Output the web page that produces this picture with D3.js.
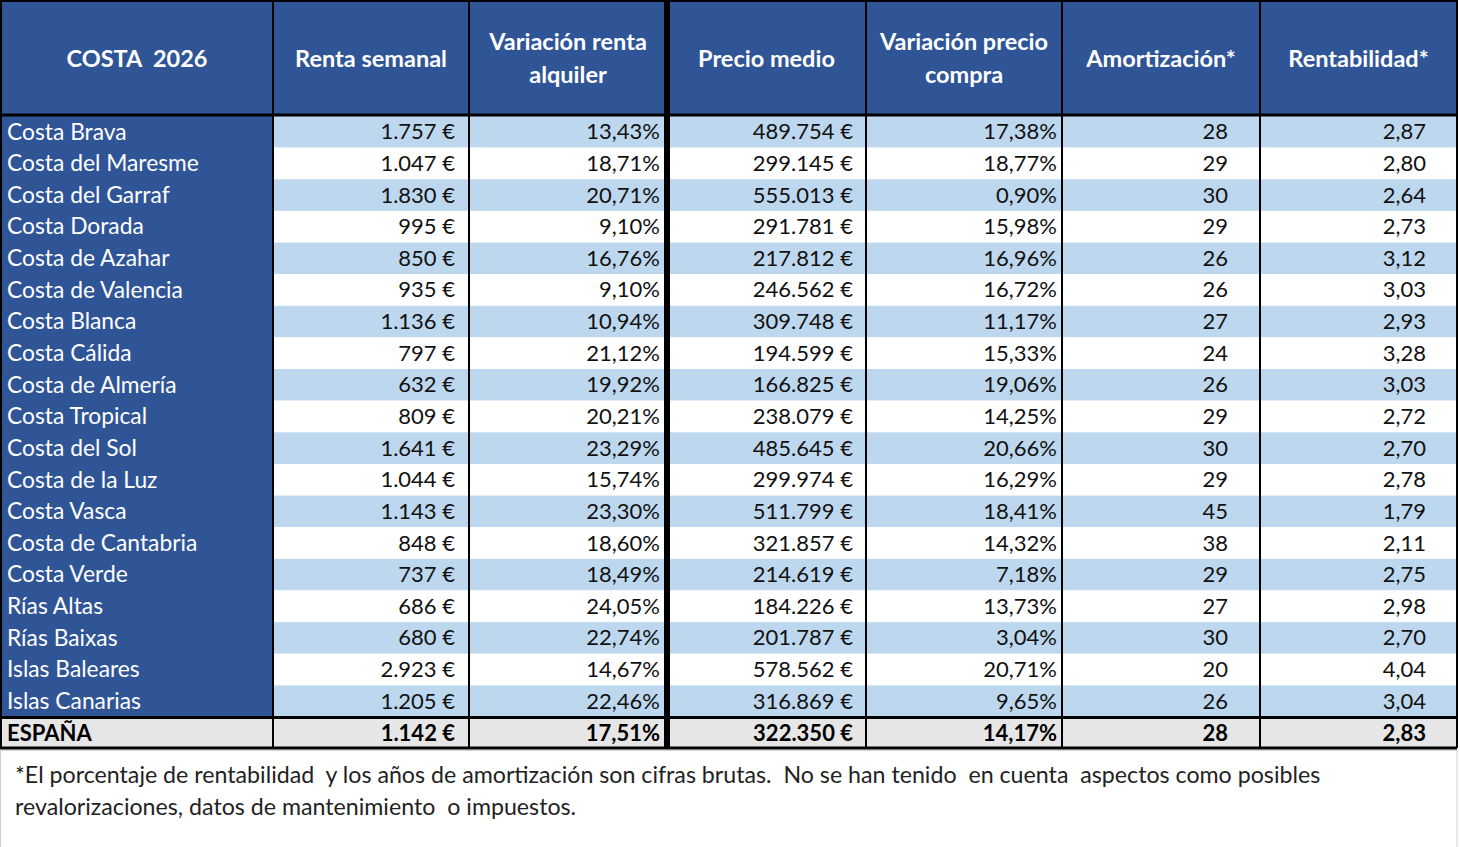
<!DOCTYPE html>
<html>
<head>
<meta charset="utf-8">
<script src="https://cdn.jsdelivr.net/npm/d3@7"></script>
<style>
  body { margin: 0; background: #fff; }
  svg { display: block; font-family: Lato, "Noto Sans", sans-serif; }
</style>
</head>
<body>
<script>
const [width, height] = [1460, 847];

// data
const headers = [
  ["COSTA  2026"],
  ["Renta semanal"],
  ["Variación renta", "alquiler"],
  ["Precio medio"],
  ["Variación precio", "compra"],
  ["Amortización*"],
  ["Rentabilidad*"]
];
const regions = [
  "Costa Brava", "Costa del Maresme", "Costa del Garraf", "Costa Dorada",
  "Costa de Azahar", "Costa de Valencia", "Costa Blanca", "Costa Cálida",
  "Costa de Almería", "Costa Tropical", "Costa del Sol", "Costa de la Luz",
  "Costa Vasca", "Costa de Cantabria", "Costa Verde", "Rías Altas",
  "Rías Baixas", "Islas Baleares", "Islas Canarias"
];
const renta = [1757, 1047, 1830, 995, 850, 935, 1136, 797, 632, 809, 1641, 1044, 1143, 848, 737, 686, 680, 2923, 1205];
const varRenta = [13.43, 18.71, 20.71, 9.10, 16.76, 9.10, 10.94, 21.12, 19.92, 20.21, 23.29, 15.74, 23.30, 18.60, 18.49, 24.05, 22.74, 14.67, 22.46];
const precio = [489754, 299145, 555013, 291781, 217812, 246562, 309748, 194599, 166825, 238079, 485645, 299974, 511799, 321857, 214619, 184226, 201787, 578562, 316869];
const varPrecio = [17.38, 18.77, 0.90, 15.98, 16.96, 16.72, 11.17, 15.33, 19.06, 14.25, 20.66, 16.29, 18.41, 14.32, 7.18, 13.73, 3.04, 20.71, 9.65];
const amort = [28, 29, 30, 29, 26, 26, 27, 24, 26, 29, 30, 29, 45, 38, 29, 27, 30, 20, 26];
const rentab = [2.87, 2.80, 2.64, 2.73, 3.12, 3.03, 2.93, 3.28, 3.03, 2.72, 2.70, 2.78, 1.79, 2.11, 2.75, 2.98, 2.70, 4.04, 3.04];
const total = { name: "ESPAÑA", renta: 1142, varRenta: 17.51, precio: 322350, varPrecio: 14.17, amort: 28, rentab: 2.83 };
const footnote = [
  "*El porcentaje de rentabilidad  y los años de amortización son cifras brutas.  No se han tenido  en cuenta  aspectos como posibles",
  "revalorizaciones, datos de mantenimiento  o impuestos."
];

// spanish number formatting
const es = d3.formatLocale({ decimal: ",", thousands: ".", grouping: [3], currency: ["", " €"] });
const fmtEuro = v => es.format(",.0f")(v) + " €";
const fmtPct = v => es.format(".2f")(v) + "%";
const fmtInt = v => es.format("d")(v);
const fmtDec = v => es.format(".2f")(v);

const rows = regions.map((name, i) => ({
  name, renta: renta[i], varRenta: varRenta[i], precio: precio[i],
  varPrecio: varPrecio[i], amort: amort[i], rentab: rentab[i]
}));

// columns: key, formatter, right padding
const cols = [
  { key: "name", fmt: d => d, pad: 6 },
  { key: "renta", fmt: fmtEuro, pad: 14 },
  { key: "varRenta", fmt: fmtPct, pad: 7 },
  { key: "precio", fmt: fmtEuro, pad: 13 },
  { key: "varPrecio", fmt: fmtPct, pad: 5 },
  { key: "amort", fmt: fmtInt, pad: 32 },
  { key: "rentab", fmt: fmtDec, pad: 31 }
];
const edges = [1, 273, 469, 667, 866, 1062, 1260, 1457];

const colors = {
  header: "#2F5597",
  stripe: "#BDD7EE",
  total: "#E7E6E6"
};

const headerH = 115;
const bodyTop = 116, bodyBottom = 717;
const totalTop = 718, totalBottom = 748;

const y = d3.scaleBand()
  .domain(d3.range(rows.length))
  .range([bodyTop, bodyBottom]);

const svg = d3.select("body").append("svg")
  .attr("width", width)
  .attr("height", height);

svg.append("rect").attr("width", width).attr("height", height).attr("fill", "#fff");

// header background
svg.append("rect")
  .attr("x", edges[0]).attr("y", 0)
  .attr("width", edges[7] - edges[0]).attr("height", headerH)
  .attr("fill", colors.header);

// first column dark blue
svg.append("rect")
  .attr("x", edges[0]).attr("y", bodyTop)
  .attr("width", edges[1] - edges[0]).attr("height", bodyBottom - bodyTop)
  .attr("fill", colors.header);

// body rows
const rowG = svg.selectAll("g.row")
  .data(rows)
  .enter()
  .append("g")
    .attr("class", "row");

rowG.append("rect")
  .attr("x", edges[1])
  .attr("y", (d, i) => y(i))
  .attr("width", edges[7] - edges[1])
  .attr("height", y.bandwidth())
  .attr("fill", (d, i) => i % 2 === 0 ? colors.stripe : "#fff");

// total row
svg.append("rect")
  .attr("x", edges[0]).attr("y", totalTop)
  .attr("width", edges[7] - edges[0]).attr("height", totalBottom - totalTop)
  .attr("fill", colors.total);

// cell texts
cols.forEach((c, ci) => {
  rowG.append("text")
    .text(d => c.fmt(d[c.key]))
    .attr("x", ci === 0 ? edges[0] + c.pad : edges[ci + 1] - c.pad)
    .attr("y", (d, i) => y(i) + y.bandwidth() / 2)
    .attr("dy", "0.34em")
    .attr("text-anchor", ci === 0 ? "start" : "end")
    .attr("font-size", ci === 0 ? "22.8px" : "22px")
    .attr("fill", ci === 0 ? "#fff" : "#111");

  svg.append("text")
    .text(c.fmt(total[c.key]))
    .attr("x", ci === 0 ? edges[0] + c.pad : edges[ci + 1] - c.pad)
    .attr("y", (totalTop + totalBottom) / 2)
    .attr("dy", "0.36em")
    .attr("text-anchor", ci === 0 ? "start" : "end")
    .attr("font-size", "22px")
    .attr("font-weight", "bold")
    .attr("fill", "#000");
});

// header texts
headers.forEach((lines, ci) => {
  const cx = (edges[ci] + edges[ci + 1]) / 2;
  const t = svg.append("text")
    .attr("text-anchor", "middle")
    .attr("font-size", "23.5px")
    .attr("font-weight", "bold")
    .attr("fill", "#fff")
    .attr("xml:space", "preserve")
    .style("white-space", "pre");
  lines.forEach((l, li) => {
    t.append("tspan")
      .attr("x", cx)
      .attr("y", lines.length === 1 ? 59 : 42 + li * 33)
      .attr("dy", "0.36em")
      .text(l);
  });
});

// grid lines
const line = (x1, y1, x2, y2, w) => svg.append("line")
  .attr("x1", x1).attr("y1", y1).attr("x2", x2).attr("y2", y2)
  .attr("stroke", "#000").attr("stroke-width", w);

edges.forEach((x, i) => {
  const w = i === 3 ? 6 : 2;
  line(x, 0, x, totalBottom, w);
});
line(0, 1, edges[7], 1, 2);
line(0, headerH, edges[7], headerH, 3);
line(0, bodyBottom + 0.5, edges[7], bodyBottom + 0.5, 3);
line(0, totalBottom, edges[7], totalBottom, 3);

// footnote box
svg.append("rect")
  .attr("x", 0.5).attr("y", totalBottom + 2.5)
  .attr("width", edges[7] - 0.5).attr("height", height - totalBottom)
  .attr("fill", "none")
  .attr("stroke", "#d0d0d0");

svg.selectAll("text.foot")
  .data(footnote)
  .enter()
  .append("text")
    .attr("class", "foot")
    .text(d => d)
    .attr("x", 15)
    .attr("y", (d, i) => 775 + i * 32)
    .attr("dy", "0.36em")
    .attr("font-size", "23.2px")
    .attr("fill", "#222")
    .attr("xml:space", "preserve")
    .style("white-space", "pre");
</script>
</body>
</html>
